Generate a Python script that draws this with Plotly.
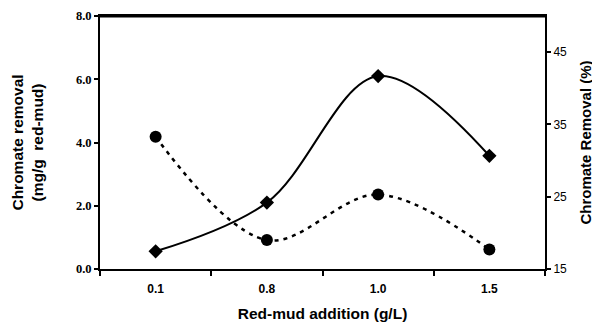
import plotly.graph_objects as go

categories = ["0.1", "0.8", "1.0", "1.5"]
removal_mg_g = [0.56, 2.1, 6.1, 3.58]
removal_pct = [33.3, 19.0, 25.3, 17.7]
left_ticks = [0, 2, 4, 6, 8]
right_ticks = [15, 25, 35, 45]

fig = go.Figure()
fig.add_trace(go.Scatter(
    x=categories, y=removal_mg_g, mode="lines+markers",
    line=dict(color="black", width=2, shape="spline", smoothing=1),
    marker=dict(symbol="diamond", size=11, color="black"),
    showlegend=False, cliponaxis=False))
fig.add_trace(go.Scatter(
    x=categories, y=removal_pct, mode="lines+markers", yaxis="y2",
    line=dict(color="black", width=2.5, shape="spline", smoothing=1, dash="4px,5px"),
    marker=dict(symbol="circle", size=12, color="black"),
    showlegend=False, cliponaxis=False))

# top border of the plot frame
fig.add_shape(type="line", xref="x domain", yref="y domain", x0=0, x1=1, y0=0.998, y1=0.998,
              line=dict(color="black", width=2), layer="above")

sans = "Liberation Sans, Arial"
fig.update_layout(
    width=592, height=315,
    margin=dict(l=92, r=55, t=8, b=54, autoexpand=False),
    plot_bgcolor="white", paper_bgcolor="white",
    xaxis=dict(
        type="category", range=[-0.5, 3.5],
        showline=True, linecolor="black", linewidth=2, mirror=True,
        ticks="outside", tickson="boundaries", ticklen=5, tickwidth=2, tickcolor="black",
        ticklabelstandoff=8,
        showgrid=False, zeroline=False,
        tickfont=dict(family=sans, size=12, color="black", weight="bold"),
        title=dict(text="Red-mud addition (g/L)", standoff=13,
                   font=dict(family=sans, size=15.5, color="black", weight="bold")),
    ),
    yaxis=dict(
        range=[0, 8], tickvals=left_ticks, tickformat=".1f",
        showline=True, linecolor="black", linewidth=2,
        ticks="outside", ticklen=4, tickwidth=2, tickcolor="black",
        showgrid=False, zeroline=False,
        tickfont=dict(family="Liberation Serif, Times New Roman", size=12.5, color="black", weight="bold"),
        title=dict(text="Chromate removal<br>(mg/g  red-mud)", standoff=28,
                   font=dict(family=sans, size=15.5, color="black", weight="bold")),
    ),
    yaxis2=dict(
        overlaying="y", side="right",
        range=[15, 50], tickvals=right_ticks,
        showline=True, linecolor="black", linewidth=2,
        ticks="outside", ticklen=4, tickwidth=2, tickcolor="black",
        showgrid=False, zeroline=False,
        tickfont=dict(family=sans, size=12, color="black"),
        title=dict(text="Chromate Removal (%)", standoff=14,
                   font=dict(family=sans, size=15, color="black", weight="bold")),
    ),
)

fig.write_html("out.html")
